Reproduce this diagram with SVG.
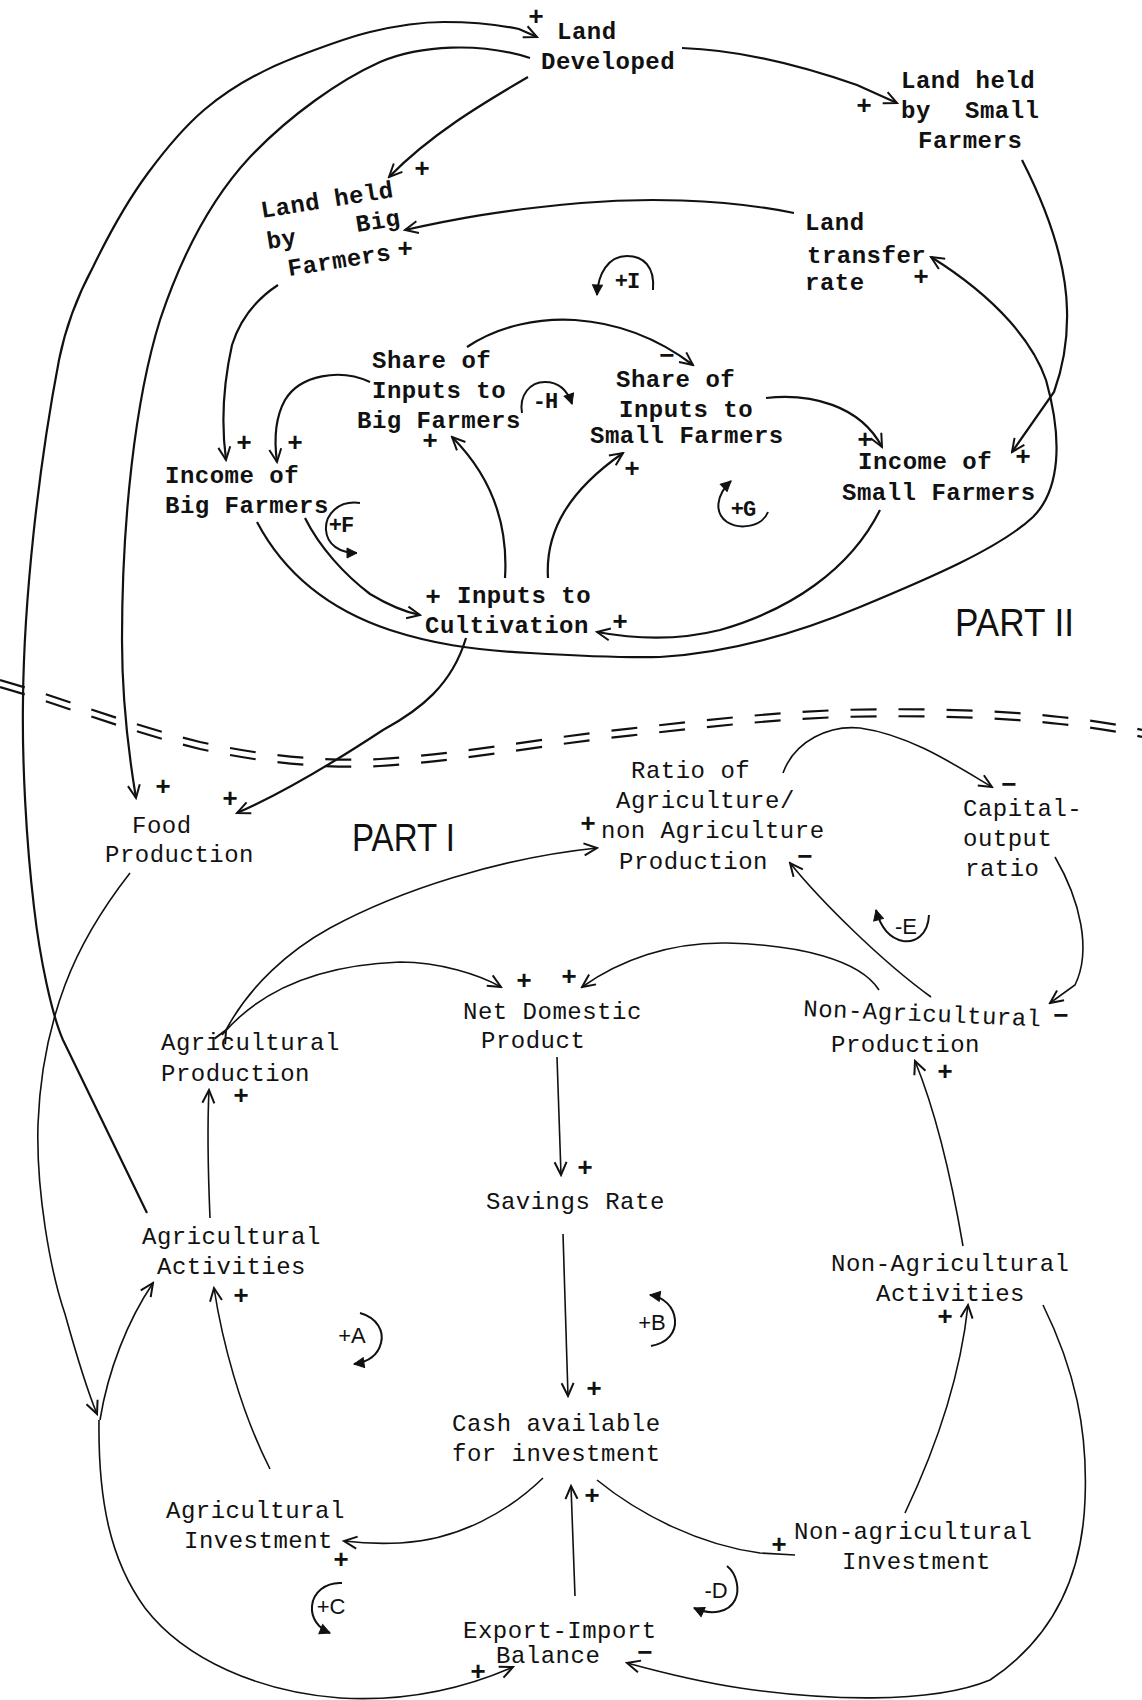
<svg xmlns="http://www.w3.org/2000/svg" width="1142" height="1700" viewBox="0 0 1142 1700">
<style>
.t2{font-family:"Liberation Mono",monospace;font-size:24px;font-weight:bold;letter-spacing:0.5px;fill:#111}
.t1{font-family:"Liberation Mono",monospace;font-size:24px;letter-spacing:0.5px;fill:#111}
.sg{font-family:"Liberation Mono",monospace;font-size:26px;font-weight:bold;text-anchor:middle;dominant-baseline:central;fill:#111}
.lm{font-family:"Liberation Mono",monospace;font-size:22px;font-weight:bold;text-anchor:middle;dominant-baseline:central;fill:#111;letter-spacing:-1px}
.ls{font-family:"Liberation Sans",sans-serif;font-size:22px;text-anchor:middle;dominant-baseline:central;fill:#111}
.part{font-family:"Liberation Sans",sans-serif;font-size:38px;fill:#111}
.c2{fill:none;stroke:#111;stroke-width:2.2;marker-end:url(#ah)}
.c1{fill:none;stroke:#111;stroke-width:1.6;marker-end:url(#ah)}
.lp{fill:none;stroke:#111;stroke-width:2;marker-end:url(#as)}
.dl{fill:none;stroke:#111;stroke-width:2.2;stroke-dasharray:26 22}
</style>
<defs>
<marker id="ah" viewBox="-15 -8 17 16" refX="0" refY="0" markerWidth="17" markerHeight="16" markerUnits="userSpaceOnUse" orient="auto">
<path d="M-13,-6 L0,0 L-13,6" fill="none" stroke="#111" stroke-width="2"/>
</marker>
<marker id="as" viewBox="-11 -6 12 12" refX="0" refY="0" markerWidth="12" markerHeight="12" markerUnits="userSpaceOnUse" orient="auto">
<path d="M-10,-5 L0,0 L-10,5 Z" fill="#111" stroke="#111" stroke-width="1"/>
</marker>
</defs>
<rect width="1142" height="1700" fill="#fff"/>

<g id="connectors">
<!-- Part II -->
<path class="c2" d="M147,1213 L63,1040 C52,1015 40,960 34,907 C26,840 22,760 23,700 C24,600 38,470 59,360 C66,325 78,295 93,267 C110,232 128,200 148,173 C165,150 183,128 204,110 C230,88 262,70 296,57 C320,48 345,38 370,32 C395,26 420,22 444,22 C470,22 500,25 519,29 L537,37"/>
<path class="c2" d="M530,58 C480,42 420,45 380,62 C340,80 290,115 250,157 C210,200 180,260 160,320 C135,400 122,520 122,640 C122,700 128,750 136,798"/>
<path class="c2" d="M682,48 C740,50 800,65 857,85 L897,103"/>
<path class="c2" d="M528,77 C480,105 430,135 389,177"/>
<path class="c2" d="M794,213 C720,198 640,198 581,203 C500,210 450,220 405,230"/>
<path class="c2" d="M278,285 C255,300 240,320 232,345 C222,390 222,430 226,460"/>
<path class="c2" d="M370,382 C340,368 300,375 285,400 C275,418 274,440 277,462"/>
<path class="c2" d="M467,347 C500,325 540,318 575,320 C620,323 660,340 693,365"/>
<path class="c2" d="M505,578 C508,530 495,480 452,437"/>
<path class="c2" d="M548,578 C545,530 570,490 623,453"/>
<path class="c2" d="M766,398 C810,393 860,405 882,447"/>
<path class="c2" d="M305,518 C320,548 345,575 370,594 C390,606 405,612 420,615"/>
<path class="c2" d="M257,522 C285,575 330,610 390,630 C430,643 470,650 530,653 C580,656 620,658 660,657 C730,653 800,632 860,607 C930,578 1000,548 1033,517 C1060,490 1063,440 1046,380 C1034,345 1000,300 931,257"/>
<path class="c2" d="M1022,160 C1045,205 1066,260 1067,310 C1068,345 1062,370 1054,392 L1012,452"/>
<path class="c2" d="M880,510 C850,570 790,610 720,630 C680,640 640,640 597,632"/>
<path class="c2" d="M466,638 C452,685 420,710 383,730 C345,755 290,790 237,813"/>
<!-- separator -->
<path class="dl" d="M0,680 C60,697 120,722 200,742 C260,755 320,762 380,759 C450,755 520,742 600,732 C680,723 760,713 840,710 C920,708 1000,710 1060,717 C1100,721 1125,726 1142,730"/>
<path class="dl" d="M0,687 C60,704 120,729 200,749 C260,762 320,769 380,766 C450,762 520,749 600,739 C680,730 760,720 840,717 C920,715 1000,717 1060,724 C1100,728 1125,733 1142,737"/>
<!-- Part I -->
<path class="c1" d="M130,873 C105,905 80,945 65,985 C50,1025 40,1070 38,1124 C36,1190 50,1270 65,1314 C75,1350 85,1385 97,1414"/>
<path class="c1" d="M99,1420 C98,1500 110,1560 145,1608 C185,1660 260,1692 340,1698 C410,1702 465,1688 513,1667"/>
<path class="c1" d="M100,1420 C108,1370 128,1320 153,1283"/>
<path class="c1" d="M210,1218 C208,1170 207,1130 209,1090"/>
<path class="c1" d="M270,1469 C240,1410 222,1340 214,1288"/>
<path class="c1" d="M543,1478 C510,1510 460,1540 400,1543 C380,1544 360,1543 344,1541"/>
<path fill="none" stroke="#111" stroke-width="1.6" d="M597,1480 C640,1515 700,1545 760,1553 L795,1555"/>
<path class="c1" d="M905,1513 C935,1450 960,1380 968,1305"/>
<path class="c1" d="M963,1246 C950,1170 935,1110 915,1061"/>
<path class="c1" d="M1043,1305 C1075,1370 1088,1430 1085,1500 C1082,1580 1050,1640 990,1680 C930,1705 820,1700 740,1688 C700,1682 660,1672 627,1663"/>
<path class="c1" d="M575,1596 L571,1486"/>
<path class="c1" d="M563,1234 L568,1396"/>
<path class="c1" d="M557,1057 L561,1175"/>
<path class="c1" d="M222,1035 C260,990 320,965 400,962 C440,962 480,975 501,987"/>
<path class="c1" marker-start="url(#ah)" d="M226,1030 C250,985 290,950 330,928 C400,890 500,858 597,848"/>
<path class="c1" d="M879,990 C860,960 800,945 727,943 C670,942 620,960 582,987"/>
<path class="c1" d="M931,997 C880,960 820,900 790,863"/>
<path class="c1" d="M783,773 C795,740 830,725 860,728 C910,735 955,765 992,787"/>
<path class="c1" d="M1055,857 C1080,900 1092,950 1075,985 L1050,1003"/>
</g>

<g id="loops">
<g id="loop-I"><path class="lp" d="M653,290 C655,266 643,256 627,256 C608,256 598,274 597,295"/><text class="lm" x="627" y="282">+I</text></g>
<g id="loop-H"><path class="lp" d="M522,413 C519,395 530,382 545,382 C560,382 568,392 572,404"/><text class="lm" x="545" y="402">-H</text></g>
<g id="loop-F"><path class="lp" d="M360,503 C338,500 325,515 326,530 C327,545 340,553 357,553"/><text class="lm" x="341" y="526">+F</text></g>
<g id="loop-G"><path class="lp" d="M768,512 C762,527 740,530 727,522 C714,513 716,495 731,481"/><text class="lm" x="743" y="510">+G</text></g>
<g id="loop-E"><path class="lp" d="M929,915 C928,935 915,943 903,941 C888,938 880,925 876,910"/><text class="ls" x="906" y="926">-E</text></g>
<g id="loop-A"><path class="lp" d="M360,1313 C378,1318 384,1332 381,1343 C378,1355 368,1362 354,1364"/><text class="ls" x="352" y="1335">+A</text></g>
<g id="loop-B"><path class="lp" d="M651,1346 C668,1343 676,1332 675,1320 C674,1307 664,1297 650,1295"/><text class="ls" x="652" y="1322">+B</text></g>
<g id="loop-C"><path class="lp" d="M342,1583 C325,1582 313,1593 312,1606 C311,1618 318,1628 330,1633"/><text class="ls" x="331" y="1606">+C</text></g>
<g id="loop-D"><path class="lp" d="M727,1566 C737,1574 740,1590 735,1600 C729,1612 712,1616 694,1608"/><text class="ls" x="716" y="1590">-D</text></g>
</g>

<g id="signs">
<text class="sg" x="536" y="18">+</text>
<text class="sg" x="864" y="107">+</text>
<text class="sg" x="422" y="170">+</text>
<text class="sg" x="405" y="250">+</text>
<text class="sg" x="921" y="278">+</text>
<text class="sg" x="244" y="444">+</text>
<text class="sg" x="295" y="444">+</text>
<text class="sg" x="430" y="442">+</text>
<text class="sg" x="667" y="357">−</text>
<text class="sg" x="632" y="470">+</text>
<text class="sg" x="865" y="441">+</text>
<text class="sg" x="1023" y="458">+</text>
<text class="sg" x="433" y="598">+</text>
<text class="sg" x="620" y="623">+</text>
<text class="sg" x="163" y="788">+</text>
<text class="sg" x="230" y="800">+</text>
<text class="sg" x="588" y="825">+</text>
<text class="sg" x="805" y="858">−</text>
<text class="sg" x="1009" y="786">−</text>
<text class="sg" x="524" y="982">+</text>
<text class="sg" x="569" y="978">+</text>
<text class="sg" x="1061" y="1017">−</text>
<text class="sg" x="945" y="1073">+</text>
<text class="sg" x="241" y="1097">+</text>
<text class="sg" x="585" y="1169">+</text>
<text class="sg" x="241" y="1297">+</text>
<text class="sg" x="945" y="1318">+</text>
<text class="sg" x="594" y="1390">+</text>
<text class="sg" x="592" y="1497">+</text>
<text class="sg" x="341" y="1561">+</text>
<text class="sg" x="779" y="1546">+</text>
<text class="sg" x="478" y="1673">+</text>
<text class="sg" x="645" y="1654">−</text>
</g>

<g id="land-developed"><text class="t2" x="557" y="39">Land</text><text class="t2" x="541" y="69">Developed</text></g>
<g id="land-small"><text class="t2" x="901" y="88">Land held</text><text class="t2" y="118"><tspan x="901">by</tspan><tspan x="965">Small</tspan></text><text class="t2" x="918" y="148">Farmers</text></g>
<g id="land-big">
<text class="t2" x="262" y="218" transform="rotate(-9 262 218)">Land held</text>
<text class="t2" x="268" y="249" transform="rotate(-9 268 249)">by</text>
<text class="t2" x="357" y="232" transform="rotate(-9 357 232)">Big</text>
<text class="t2" x="289" y="276" transform="rotate(-9 289 276)">Farmers</text>
</g>
<g id="land-transfer"><text class="t2" x="805" y="230">Land</text><text class="t2" x="807" y="263">transfer</text><text class="t2" x="805" y="290">rate</text></g>
<g id="share-big"><text class="t2" x="372" y="368">Share of</text><text class="t2" x="372" y="398">Inputs to</text><text class="t2" x="357" y="428">Big Farmers</text></g>
<g id="share-small"><text class="t2" x="616" y="387">Share of</text><text class="t2" x="619" y="417">Inputs to</text><text class="t2" x="590" y="443">Small Farmers</text></g>
<g id="income-big"><text class="t2" x="165" y="483">Income of</text><text class="t2" x="165" y="513">Big Farmers</text></g>
<g id="income-small"><text class="t2" x="858" y="469">Income of</text><text class="t2" x="842" y="500">Small Farmers</text></g>
<g id="inputs-cultivation"><text class="t2" x="457" y="603">Inputs to</text><text class="t2" x="425" y="633">Cultivation</text></g>
<g id="part2"><text class="part" x="955" y="636" textLength="119" lengthAdjust="spacingAndGlyphs">PART II</text></g>

<g id="food-production"><text class="t1" x="132" y="833">Food</text><text class="t1" x="105" y="862">Production</text></g>
<g id="part1"><text class="part" x="352" y="851" textLength="103" lengthAdjust="spacingAndGlyphs">PART I</text></g>
<g id="ratio"><text class="t1" x="631" y="778">Ratio of</text><text class="t1" x="616" y="808">Agriculture/</text><text class="t1" x="601" y="838">non Agriculture</text><text class="t1" x="619" y="869">Production</text></g>
<g id="capital-output"><text class="t1" x="963" y="816">Capital-</text><text class="t1" x="963" y="846">output</text><text class="t1" x="965" y="876">ratio</text></g>
<g id="net-domestic"><text class="t1" x="463" y="1019">Net Domestic</text><text class="t1" x="481" y="1048">Product</text></g>
<g id="nonag-production"><text class="t1" x="803" y="1016" transform="rotate(2.5 803 1016)">Non-Agricultural</text><text class="t1" x="831" y="1052">Production</text></g>
<g id="ag-production"><text class="t1" x="161" y="1050">Agricultural</text><text class="t1" x="161" y="1081">Production</text></g>
<g id="savings-rate"><text class="t1" x="486" y="1209">Savings Rate</text></g>
<g id="ag-activities"><text class="t1" x="142" y="1244">Agricultural</text><text class="t1" x="157" y="1274">Activities</text></g>
<g id="nonag-activities"><text class="t1" x="831" y="1271">Non-Agricultural</text><text class="t1" x="876" y="1301">Activities</text></g>
<g id="cash"><text class="t1" x="452" y="1431">Cash available</text><text class="t1" x="452" y="1461">for investment</text></g>
<g id="ag-investment"><text class="t1" x="166" y="1518">Agricultural</text><text class="t1" x="184" y="1548">Investment</text></g>
<g id="nonag-investment"><text class="t1" x="794" y="1539">Non-agricultural</text><text class="t1" x="842" y="1569">Investment</text></g>
<g id="export-import"><text class="t1" x="463" y="1638">Export-Import</text><text class="t1" x="496" y="1663">Balance</text></g>
</svg>
